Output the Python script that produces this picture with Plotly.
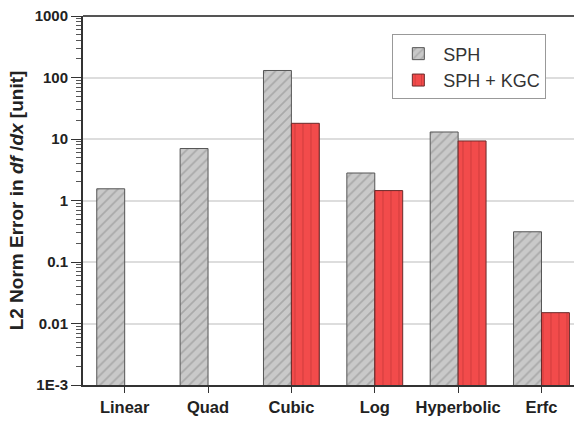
import plotly.graph_objects as go

categories = ["Linear", "Quad", "Cubic", "Log", "Hyperbolic", "Erfc"]
sph = [1.55, 7.0, 130, 2.8, 13, 0.31]
sph_kgc = [None, None, 18, 1.45, 9.3, 0.015]
ytick_vals = [1e-3, 1e-2, 1e-1, 1, 10, 100, 1000]
ytick_text = ["1E-3", "0.01", "0.1", "1", "10", "100", "1000"]

font_family = "Arial, Liberation Sans, sans-serif"

# minor tick positions: 2..9 within each decade
minor_vals = [m * d for d in ytick_vals[:-1] for m in range(2, 10)]

fig = go.Figure()
fig.add_trace(go.Bar(
    name="SPH", x=categories, y=sph,
    marker=dict(
        color="#c9c9c9",
        line=dict(color="#555555", width=1),
        pattern=dict(shape="/", fgcolor="#8a8a8a", bgcolor="#c9c9c9",
                     size=7, solidity=0.25),
    ),
))
fig.add_trace(go.Bar(
    name="SPH + KGC", x=categories, y=sph_kgc,
    marker=dict(
        color="#f24b4b",
        line=dict(color="#6a2a2a", width=1),
        pattern=dict(shape="|", fgcolor="#b83030", bgcolor="#f24b4b",
                     size=8, solidity=0.15),
    ),
))

fig.update_layout(
    width=574, height=421,
    margin=dict(l=83, r=0, t=16, b=36),
    paper_bgcolor="white", plot_bgcolor="white",
    barmode="group", bargap=0.33, bargroupgap=0,
    font=dict(family=font_family, color="#222222"),
    showlegend=True,
    legend=dict(
        x=0.63, y=0.95, xanchor="left", yanchor="top",
        bgcolor="white", bordercolor="#999999", borderwidth=1,
        font=dict(size=18, family=font_family, color="#333333"),
        itemwidth=40, tracegroupgap=0,
    ),
)

fig.update_xaxes(
    range=[-0.5, 5.39],
    showline=True, linecolor="#333333", linewidth=2,
    ticks="outside", ticklen=6, tickcolor="#333333", tickwidth=1,
    tickfont=dict(size=16.5, family=font_family, color="#222222"),
    tickprefix="<b>", ticksuffix="</b>",
    showgrid=False, zeroline=False,
)

fig.update_yaxes(
    type="log", range=[-3, 3],
    tickvals=ytick_vals, ticktext=["<b>" + t + "</b>" for t in ytick_text],
    showline=True, linecolor="#333333", linewidth=2,
    ticks="outside", ticklen=10, tickcolor="#333333", tickwidth=1,
    tickfont=dict(size=15, family=font_family, color="#222222"),
    minor=dict(tickmode="array", tickvals=minor_vals, ticks="outside",
               ticklen=5, tickcolor="#555555", showgrid=False),
    showgrid=True, gridcolor="#dddddd", gridwidth=1.5,
    zeroline=False,
    title=dict(
        text="<b>L2 Norm Error in <i>df</i> /<i>dx</i> [unit]</b>",
        font=dict(size=19, family=font_family, color="#222222"),
        standoff=6,
    ),
)

# Top frame line
fig.add_shape(type="line", xref="paper", yref="paper",
              x0=0, x1=1, y0=1, y1=1,
              line=dict(color="#555555", width=2))

fig.write_html("out.html")
